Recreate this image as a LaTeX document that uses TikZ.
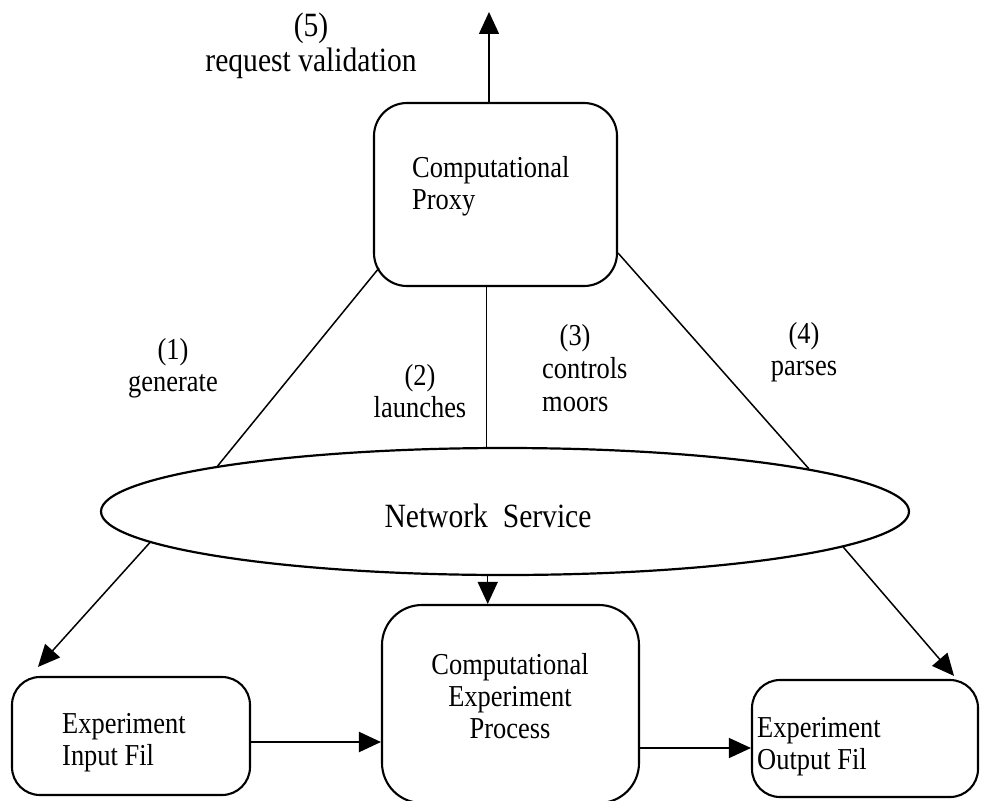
\documentclass[tikz,border=0pt]{standalone}
\usepackage{fontspec}
\setmainfont[FakeStretch=0.87]{Liberation Serif}
\usetikzlibrary{arrows.meta,shapes.geometric}
\begin{document}
\begin{tikzpicture}[x=1pt,y=-1pt,
  box/.style={draw, line width=2.1pt, rounded corners=#1, inner sep=0pt},
  box/.default=30pt,
  lbl/.style={font=\fontsize{30.4pt}{32pt}\selectfont, inner sep=0pt},
  biglbl/.style={font=\fontsize{34pt}{35pt}\selectfont, inner sep=0pt},
  conn/.style={line width=1.5pt},
  arr/.style={conn, -{Triangle[length=22pt,width=20pt]}}]
\useasboundingbox (0,0) rectangle (981,800);

% shapes
\node[box=33pt, minimum width=243pt, minimum height=183pt] (proxy) at (495.5,194.5) {};
\node[ellipse, draw, line width=2.2pt, minimum width=808pt, minimum height=127pt, inner sep=0pt] (ns) at (505,511.5) {};
\node[box=40pt, minimum width=257pt, minimum height=198pt] (proc) at (510.5,704) {};
\node[box=28pt, minimum width=238pt, minimum height=118pt] (inbox) at (131,736) {};
\node[box=28pt, minimum width=226pt, minimum height=117pt] (outbox) at (865,738.5) {};

% texts inside the shapes
\node[lbl, align=left, anchor=west] (proxytxt) at (412,186) {Computational\\Proxy};
\node[biglbl] (nstxt) at (488,516) {Network\ \ Service};
\node[lbl, align=center] (proctxt) at (510,696) {Computational\\Experiment\\Process};
\node[lbl, align=left, anchor=west] (intxt) at (62,743) {Experiment\\Input Fil};
\node[lbl, align=left, anchor=west] (outtxt) at (757,747) {Experiment\\Output Fil};

% step labels
\node[biglbl, align=center] (l5) at (311,46) {(5)\\request validation};
\node[lbl, align=center] (l1) at (173,368) {(1)\\generate};
\node[lbl, align=center] (l2) at (420,391) {(2)\\launches};
\node[lbl, align=left, anchor=west, font=\fontsize{30.4pt}{33pt}\selectfont] (l3) at (542,368) {\hspace*{17.5pt}(3)\\controls\\moors};
\node[lbl, align=center] (l4) at (804,352) {(4)\\parses};

% connectors
\coordinate (valtip) at (489,12);
\draw[arr] (proxy.north -| valtip) -- (valtip);

\draw[conn] ([shift={(6pt,19pt)}]proxy.south west) -- (ns.171.75);
\draw[arr] (ns.185.4) -- ([shift={(27pt,9pt)}]inbox.north west);

\draw[conn] (proxy.south -| ns.106) -- (ns.106);
\draw[arr] (ns.255) -- (ns.255 |- proc.north);

\draw[conn] ([yshift=34pt]proxy.south east) -- (ns.8.36);
\draw[arr] (ns.354.1) -- ([shift={(-25pt,3pt)}]outbox.north east);

\coordinate (inout) at ([yshift=-6pt]inbox.east);
\draw[arr, line width=2.2pt] (inout) -- (inout -| proc.west);
\coordinate (outin) at ([yshift=-9.5pt]outbox.west);
\draw[arr] (proc.east |- outin) -- (outin);
\end{tikzpicture}
\end{document}
